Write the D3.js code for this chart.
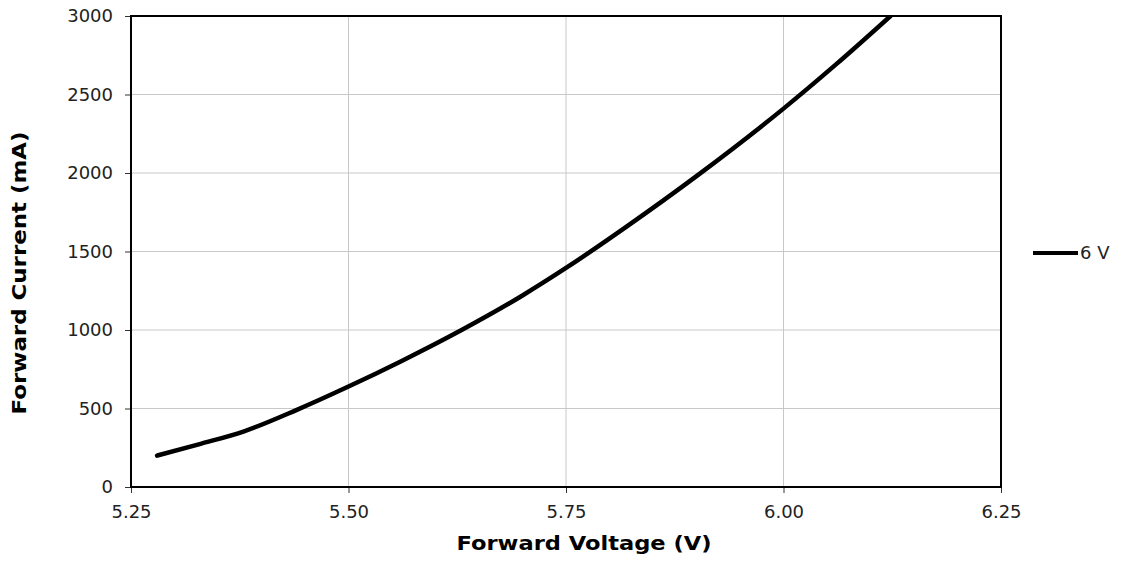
<!DOCTYPE html>
<html>
<head>
<meta charset="utf-8">
<script src="https://cdn.jsdelivr.net/npm/d3@7"></script>
<style>
  body { margin: 0; background: #fff; }
  svg { display: block; font-family: "DejaVu Sans", Verdana, sans-serif; }
</style>
</head>
<body>
<svg id="chart" width="1125" height="563"></svg>
<script>
//Chart data
var seriesName = "6 V";
var voltage = [5.28, 5.33, 5.38, 5.44, 5.50, 5.56, 5.63, 5.70, 5.75, 5.82, 5.90, 6.00, 6.06, 6.123];
var current = [200, 275, 355, 490, 640, 800, 1000, 1220, 1395, 1660, 1980, 2410, 2690, 3000];
var xTicks = [5.25, 5.50, 5.75, 6.00, 6.25];
var yTicks = [0, 500, 1000, 1500, 2000, 2500, 3000];

//Plot area
var plotLeft = 131, plotRight = 1001, plotTop = 16, plotBottom = 487;

var svg = d3.select("#chart");

var x = d3.scaleLinear().domain([5.25, 6.25]).range([plotLeft, plotRight]);
var y = d3.scaleLinear().domain([0, 3000]).range([plotBottom, plotTop]);

//Grid lines
svg.append("g").selectAll("line")
  .data(xTicks.slice(1, -1))
  .enter().append("line")
  .attr("x1", function(d) { return x(d); })
  .attr("x2", function(d) { return x(d); })
  .attr("y1", plotTop).attr("y2", plotBottom)
  .attr("stroke", "#c8c8c8").attr("stroke-width", 1);

svg.append("g").selectAll("line")
  .data(yTicks.slice(1, -1))
  .enter().append("line")
  .attr("x1", plotLeft).attr("x2", plotRight)
  .attr("y1", function(d) { return y(d); })
  .attr("y2", function(d) { return y(d); })
  .attr("stroke", "#c8c8c8").attr("stroke-width", 1);

//Axes
var xAxis = svg.append("g")
  .attr("transform", "translate(0," + plotBottom + ")")
  .call(d3.axisBottom(x).tickValues(xTicks).tickFormat(d3.format(".2f")).tickSize(6).tickPadding(12));

var yAxis = svg.append("g")
  .attr("transform", "translate(" + plotLeft + ",0)")
  .call(d3.axisLeft(y).tickValues(yTicks).tickFormat(d3.format("d")).tickSize(6).tickPadding(12));

[xAxis, yAxis].forEach(function(a) {
  a.select(".domain").remove();
  a.selectAll("line").attr("stroke", "#333");
  a.selectAll("text").attr("font-size", 18).attr("fill", "#222")
    .style("font-family", "'DejaVu Sans', Verdana, sans-serif");
});

//Plot border
svg.append("rect")
  .attr("x", plotLeft).attr("y", plotTop)
  .attr("width", plotRight - plotLeft).attr("height", plotBottom - plotTop)
  .attr("fill", "none").attr("stroke", "#000").attr("stroke-width", 2);

//Series line
svg.append("clipPath").attr("id", "clip")
  .append("rect").attr("x", plotLeft).attr("y", plotTop)
  .attr("width", plotRight - plotLeft).attr("height", plotBottom - plotTop);

var line = d3.line()
  .x(function(d, i) { return x(voltage[i]); })
  .y(function(d, i) { return y(current[i]); })
  .curve(d3.curveMonotoneX);

svg.append("path")
  .datum(current)
  .attr("clip-path", "url(#clip)")
  .attr("d", line)
  .attr("fill", "none")
  .attr("stroke", "#000")
  .attr("stroke-width", 4.5)
  .attr("stroke-linecap", "round")
  .attr("stroke-linejoin", "round");

//Axis titles (Verdana bold is wider than DejaVu, so stretch to match)
svg.append("text")
  .attr("x", 584).attr("y", 550)
  .attr("text-anchor", "middle")
  .attr("font-size", 19).attr("font-weight", "bold")
  .attr("textLength", 255).attr("lengthAdjust", "spacingAndGlyphs")
  .text("Forward Voltage (V)");

svg.append("text")
  .attr("transform", "translate(26,273) rotate(-90)")
  .attr("text-anchor", "middle")
  .attr("font-size", 19).attr("font-weight", "bold")
  .attr("textLength", 283).attr("lengthAdjust", "spacingAndGlyphs")
  .text("Forward Current (mA)");

//Legend
svg.append("line")
  .attr("x1", 1033).attr("x2", 1078)
  .attr("y1", 253).attr("y2", 253)
  .attr("stroke", "#000").attr("stroke-width", 4);

svg.append("text")
  .attr("x", 1080).attr("y", 259)
  .attr("font-size", 18).attr("fill", "#222")
  .text(seriesName);
</script>
</body>
</html>
